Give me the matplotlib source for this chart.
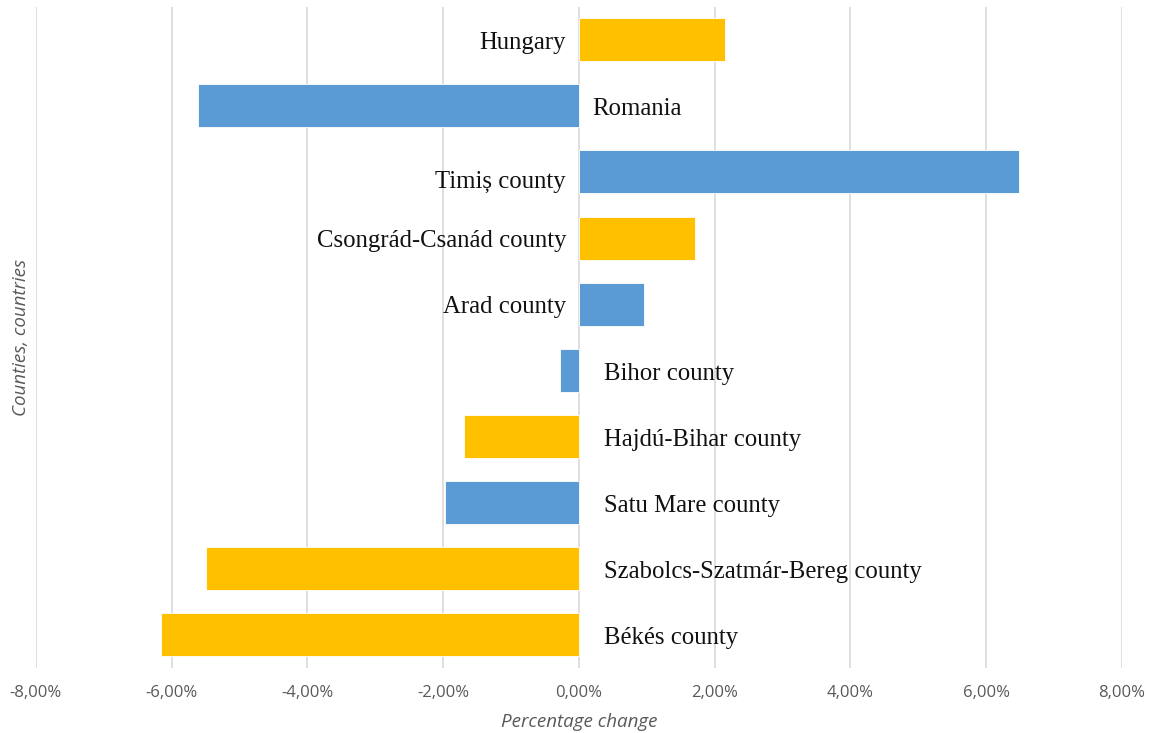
import matplotlib
matplotlib.use("Agg")
import matplotlib.pyplot as plt
from matplotlib.ticker import FuncFormatter, MultipleLocator

# data (top to bottom as in the chart)
regions = ["Hungary", "Romania", "Timiș county", "Csongrád-Csanád county", "Arad county",
           "Bihor county", "Hajdú-Bihar county", "Satu Mare county",
           "Szabolcs-Szatmár-Bereg county", "Békés county"]
change = [2.15, -5.62, 6.49, 1.71, 0.96, -0.28, -1.69, -1.97, -5.49, -6.16]
country = ["HU", "RO", "RO", "HU", "RO", "RO", "HU", "RO", "HU", "HU"]

colors = {"HU": "#FFC000", "RO": "#5B9BD5"}

fig = plt.figure(figsize=(11.53, 7.33), dpi=100)
ax = fig.add_axes([0.0312, 0.0887, 0.9419, 0.9024])

ypos = list(range(len(regions)))
ax.barh(ypos, change, height=0.65, color=[colors[c] for c in country],
        edgecolor="white", linewidth=0.6, zorder=3)
ax.set_ylim(len(regions) - 0.5, -0.5)
ax.set_xlim(-8, 8)

# labels beside the zero line, on the side opposite the bar
for i, (name, v) in enumerate(zip(regions, change)):
    dy = 0.05
    if name.startswith("Timi"):
        dy = 0.15
    if v >= 0:
        ax.text(-0.19, i + dy, name, ha="right", va="center",
                family="Liberation Serif", fontsize=17.8, color="#111111", zorder=4)
    else:
        dx = 0.19 if name == "Romania" else 0.37
        ax.text(dx, i + dy, name, ha="left", va="center",
                family="Liberation Serif", fontsize=17.8, color="#111111", zorder=4)

ax.xaxis.set_major_locator(MultipleLocator(2))
ax.xaxis.set_major_formatter(FuncFormatter(lambda x, p: ("%.2f%%" % x).replace(".", ",")))
ax.grid(axis="x", color="#d9d9d9", linewidth=1.2, zorder=0)
ax.set_yticks([])
for s in ax.spines.values():
    s.set_visible(False)
ax.tick_params(axis="x", length=0, pad=12, labelsize=12, labelcolor="#595959")
for t in ax.get_xticklabels():
    t.set_family("Open Sans")

ax.set_xlabel("Percentage change", family="Open Sans", style="italic",
              fontsize=13.5, color="#595959", labelpad=9)
ax.set_ylabel("Counties, countries", family="Open Sans", style="italic",
              fontsize=13.5, color="#595959", labelpad=4)

fig.savefig("out.png", dpi=100)
